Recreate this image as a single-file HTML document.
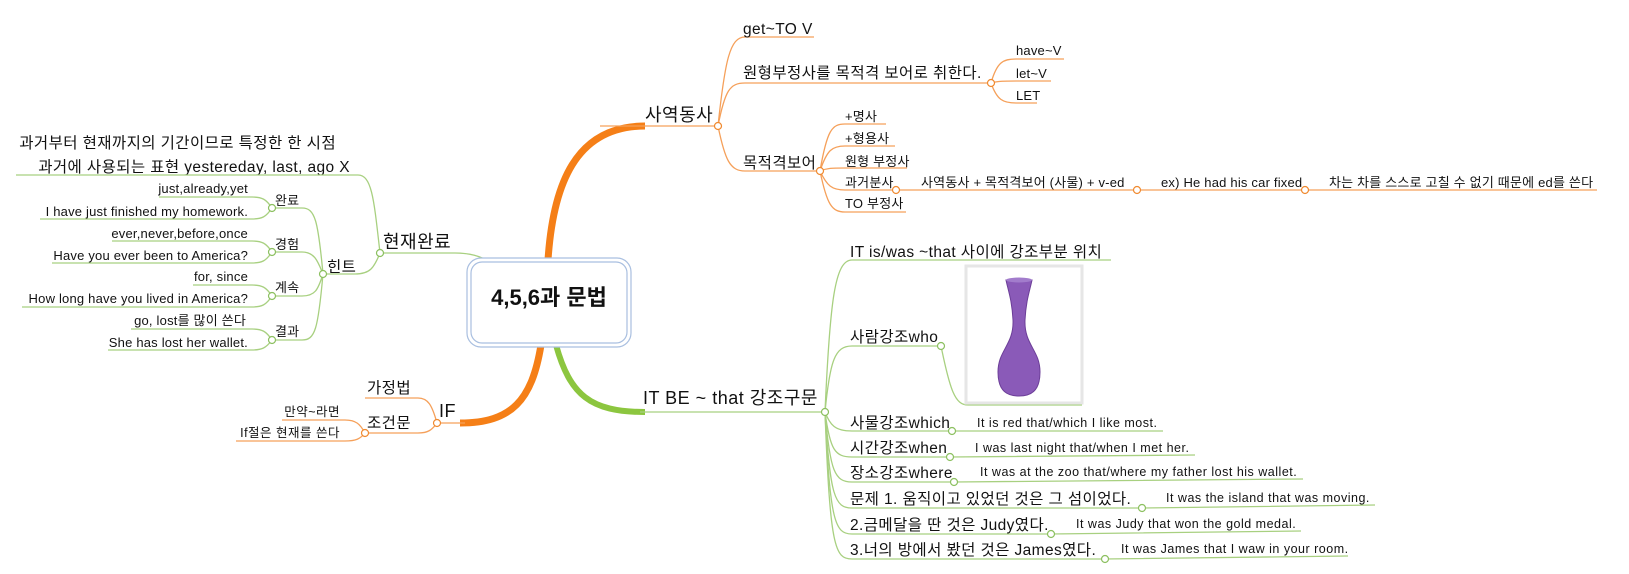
<!DOCTYPE html>
<html><head><meta charset="utf-8"><style>
html,body{margin:0;padding:0;background:#fff;}
svg{display:block;font-family:"Liberation Sans","Noto Sans CJK KR",sans-serif;}
.o{stroke:#f5a05a;fill:none;stroke-width:1.3}
.g{stroke:#a8d080;fill:none;stroke-width:1.3}
.co{fill:#fff;stroke:#f08a30;stroke-width:1.2}
.cg{fill:#fff;stroke:#8cc060;stroke-width:1.2}
text{fill:#111}
.l1{font-size:18px;letter-spacing:0.5px}
.l2{font-size:15.5px;letter-spacing:0.4px}
.l3{font-size:13px;letter-spacing:0.2px}
.l4{font-size:12.5px;letter-spacing:0.5px}
.e{text-anchor:end}
</style></head><body>
<svg width="1629" height="574" viewBox="0 0 1629 574">
<!-- main thick branches -->
<path d="M548,260 C553,185 575,126 645,126" stroke="#f57f17" stroke-width="7" fill="none"/>
<path d="M541,345 C532,400 512,423 460,423" stroke="#f57f17" stroke-width="7" fill="none"/>
<path d="M556,345 C570,395 590,412 645,412" stroke="#8cc63f" stroke-width="6" fill="none"/>
<path d="M380,253 L455,253 C470,253 480,256 490,262" class="g" stroke-width="2"/>

<!-- 사역동사 -->
<path class="o" d="M600,126 L718,126"/>
<text class="l1" x="645" y="121">사역동사</text>
<path class="o" d="M718,126 C725,60 730,37 745,37 L814,37"/>
<text class="l2" x="743" y="34">get~TO V</text>
<path class="o" d="M718,126 C725,90 730,83 745,83 L991,83"/>
<text class="l2" x="743" y="78">원형부정사를 목적격 보어로 취한다.</text>
<path class="o" d="M991,83 C997,62 1003,59 1016,59 L1064,59 M991,83 C998,81 1005,81 1016,81 L1051,81 M991,83 C997,100 1003,103 1016,103 L1037,103"/>
<text class="l3" x="1016" y="55">have~V</text>
<text class="l3" x="1016" y="78">let~V</text>
<text class="l3" x="1016" y="100">LET</text>
<path class="o" d="M718,126 C725,160 730,171 745,171 L820,171"/>
<text class="l2" x="743" y="168">목적격보어</text>
<path class="o" d="M820,171 C827,130 832,124 845,124 L886,124 M820,171 C827,150 832,146 845,146 L895,146 M820,171 C827,168 832,168 845,168 L907,168 M820,171 C827,186 832,190 845,190 L896,190 M820,171 C827,205 832,212 845,212 L906,212"/>
<text class="l3" x="845" y="121">+명사</text>
<text class="l3" x="845" y="143">+형용사</text>
<text class="l3" x="845" y="166">원형 부정사</text>
<text class="l3" x="845" y="187">과거분사</text>
<text class="l3" x="845" y="208">TO 부정사</text>
<path class="o" d="M896,190 L1597,190"/>
<text class="l3" x="921" y="187">사역동사 + 목적격보어 (사물) + v-ed</text>
<text class="l3" x="1161" y="187">ex) He had his car fixed</text>
<text class="l3" x="1329" y="187">차는 차를 스스로 고칠 수 없기 때문에 ed를 쓴다</text>
<circle class="co" cx="718" cy="126" r="3.5"/>
<circle class="co" cx="991" cy="83" r="3.5"/>
<circle class="co" cx="820" cy="171" r="3.5"/>
<circle class="co" cx="896" cy="190" r="3.5"/>
<circle class="co" cx="1137" cy="190" r="3.5"/>
<circle class="co" cx="1305" cy="190" r="3.5"/>

<!-- IT BE -->
<path class="g" d="M640,412 L825,412"/>
<text class="l1" x="643" y="404">IT BE ~ that 강조구문</text>
<path class="g" d="M825,412 C830,300 835,260 852,260 L1111,260"/>
<text class="l2" x="850" y="257">IT is/was ~that 사이에 강조부분 위치</text>
<path class="g" d="M825,412 C830,360 835,346 852,346 L941,346 C950,390 955,405 968,405 L1082,405"/>
<text class="l2" x="850" y="342">사람강조who</text>
<rect x="966" y="266" width="116" height="137" fill="#fff" stroke="#e6e6e6" stroke-width="3"/>
<path d="M1006,280 L1032,280 C1030,290 1026,300 1025,320 C1024,345 1040,350 1040,372 C1040,392 1030,396 1019,396 C1008,396 998,392 998,372 C998,350 1014,345 1013,320 C1012,300 1008,290 1006,280 Z" fill="#8a5ab8" stroke="#6c3e98" stroke-width="1"/>
<ellipse cx="1019" cy="280" rx="13" ry="2.5" fill="#a27ccc"/>
<path class="g" d="M825,412 C830,425 835,431 852,431 L1163,431"/>
<text class="l2" x="850" y="428">사물강조which</text>
<text class="l4" x="977" y="427">It is red that/which I like most.</text>
<path class="g" d="M825,412 C830,450 835,457 852,457 L950,457 L1195,455"/>
<text class="l2" x="850" y="453">시간강조when</text>
<text class="l4" x="975" y="452">I was last night that/when I met her.</text>
<path class="g" d="M825,412 C830,472 835,482 852,482 L954,482 L1303,479"/>
<text class="l2" x="850" y="478">장소강조where</text>
<text class="l4" x="980" y="476">It was at the zoo that/where my father lost his wallet.</text>
<path class="g" d="M825,412 C830,497 835,508 852,508 L1142,508 L1375,505"/>
<text class="l2" x="850" y="504">문제 1. 움직이고 있었던 것은 그 섬이었다.</text>
<text class="l4" x="1166" y="502">It was the island that was moving.</text>
<path class="g" d="M825,412 C830,522 835,534 852,534 L1051,534 L1301,531"/>
<text class="l2" x="850" y="530">2.금메달을 딴 것은 Judy였다.</text>
<text class="l4" x="1076" y="528">It was Judy that won the gold medal.</text>
<path class="g" d="M825,412 C830,548 835,559 852,559 L1105,559 L1348,556"/>
<text class="l2" x="850" y="555">3.너의 방에서 봤던 것은 James였다.</text>
<text class="l4" x="1121" y="553">It was James that I waw in your room.</text>
<circle class="cg" cx="825" cy="412" r="3.5"/>
<circle class="cg" cx="941" cy="346" r="3.5"/>
<circle class="cg" cx="952" cy="431" r="3.5"/>
<circle class="cg" cx="950" cy="457" r="3.5"/>
<circle class="cg" cx="954" cy="482" r="3.5"/>
<circle class="cg" cx="1142" cy="508" r="3.5"/>
<circle class="cg" cx="1051" cy="534" r="3.5"/>
<circle class="cg" cx="1105" cy="559" r="3.5"/>

<!-- 현재완료 -->
<text class="l1" x="383" y="248">현재완료</text>
<text class="l2 e" x="336" y="148">과거부터 현재까지의 기간이므로 특정한 한 시점</text>
<text class="l2 e" x="350" y="172">과거에 사용되는 표현 yestereday, last, ago X</text>
<path class="g" d="M16,175 L358,175 C372,175 374,200 380,253"/>
<path class="g" d="M380,253 C374,268 370,274 355,274 L323,274"/>
<text class="l2" x="327" y="272">힌트</text>
<path class="g" d="M323,274 C318,220 315,208 302,208 L272,208 M323,274 C318,262 315,252 302,252 L272,252 M323,274 C318,290 315,296 302,296 L272,296 M323,274 C318,330 315,340 302,340 L272,340"/>
<text class="l3" x="275" y="205">완료</text>
<text class="l3" x="275" y="249">경험</text>
<text class="l3" x="275" y="292">계속</text>
<text class="l3" x="275" y="336">결과</text>
<path class="g" d="M272,208 C266,199 262,197 252,197 L159,197 M272,208 C266,217 262,219 252,219 L40,219"/>
<path class="g" d="M272,252 C266,243 262,241 252,241 L112,241 M272,252 C266,261 262,263 252,263 L52,263"/>
<path class="g" d="M272,296 C266,287 262,285 252,285 L193,285 M272,296 C266,305 262,307 252,307 L22,307"/>
<path class="g" d="M272,340 C266,331 262,329 252,329 L131,329 M272,340 C266,348 262,350 252,350 L108,350"/>
<text class="l3 e" x="248" y="193">just,already,yet</text>
<text class="l3 e" x="248" y="216">I have just finished my homework.</text>
<text class="l3 e" x="248" y="238">ever,never,before,once</text>
<text class="l3 e" x="248" y="260">Have you ever been to America?</text>
<text class="l3 e" x="248" y="281">for, since</text>
<text class="l3 e" x="248" y="303">How long have you lived in America?</text>
<text class="l3 e" x="246" y="325">go, lost를 많이 쓴다</text>
<text class="l3 e" x="248" y="347">She has lost her wallet.</text>
<circle class="cg" cx="380" cy="253" r="3.5"/>
<circle class="cg" cx="323" cy="274" r="3.5"/>
<circle class="cg" cx="272" cy="208" r="3.5"/>
<circle class="cg" cx="272" cy="252" r="3.5"/>
<circle class="cg" cx="272" cy="296" r="3.5"/>
<circle class="cg" cx="272" cy="340" r="3.5"/>

<!-- IF -->
<path class="o" d="M437,423 L465,423"/>
<text class="l1" x="439" y="417">IF</text>
<path class="o" d="M437,423 C432,405 428,398 418,398 L365,398 M437,423 C432,430 428,433 418,433 L365,433"/>
<text class="l2" x="367" y="393">가정법</text>
<text class="l2" x="367" y="428">조건문</text>
<path class="o" d="M365,433 C360,424 356,420 345,420 L282,420 M365,433 C360,439 356,441 345,441 L236,441"/>
<text class="l4 e" x="340" y="416">만약~라면</text>
<text class="l4 e" x="340" y="437">If절은 현재를 쓴다</text>
<circle class="co" cx="437" cy="423" r="3.5"/>
<circle class="co" cx="365" cy="433" r="3.5"/>

<!-- center -->
<rect x="467" y="258" width="164" height="89" rx="14" fill="#fff" stroke="#a9bfe0" stroke-width="1.2"/>
<rect x="471" y="262" width="156" height="81" rx="11" fill="#fff" stroke="#a9bfe0" stroke-width="1.2"/>
<text x="549" y="305" text-anchor="middle" font-size="22" font-weight="bold">4,5,6과 문법</text>
</svg>
</body></html>
